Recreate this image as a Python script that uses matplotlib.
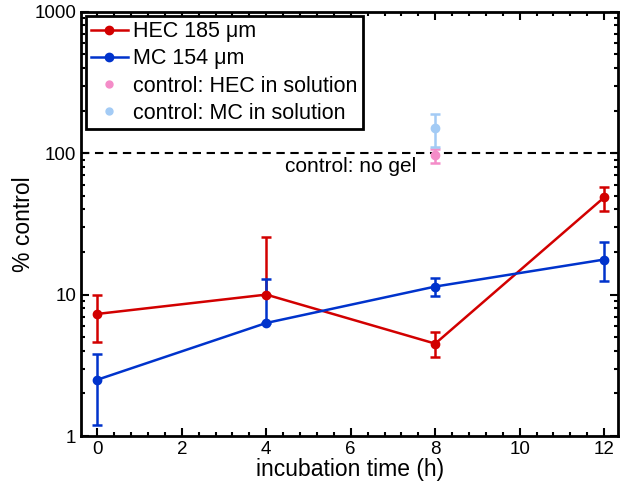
import numpy as np
import matplotlib
matplotlib.use('Agg')
import matplotlib.pyplot as plt
from matplotlib.lines import Line2D
from matplotlib.ticker import LogLocator, NullFormatter, FixedLocator

plt.rcParams['font.family'] = ['Liberation Sans', 'DejaVu Sans']

# data
time_h = [0, 4, 8, 12]
hec = [7.3, 10.0, 4.5, 48.7]
hec_lo = [2.7, 0.0, 0.9, 9.9]
hec_hi = [2.7, 15.4, 0.9, 9.3]
mc = [2.5, 6.3, 11.4, 17.7]
mc_lo = [1.3, 0.0, 1.7, 5.3]
mc_hi = [1.3, 6.5, 1.8, 5.7]

ctrl_t = [8]
ctrl_hec = [97]
ctrl_hec_err = [[12], [10]]
ctrl_mc = [150]
ctrl_mc_err = [[40], [40]]

red = '#d20000'
blue = '#0033cc'
pink = '#f48cc8'
lblue = '#a3cbf5'

fig, ax = plt.subplots(figsize=(6.25, 4.91), dpi=100)
fig.subplots_adjust(left=0.13, right=0.989, top=0.976, bottom=0.112)

ax.axhline(100, color='black', linestyle=(0, (4, 2.7)), linewidth=1.5, zorder=1)
ax.text(6.0, 80, 'control: no gel', ha='center', va='center', fontsize=15)

ebk = dict(marker='o', markersize=6, capsize=3.6, elinewidth=1.8, capthick=1.8)
ax.errorbar(ctrl_t, ctrl_hec, yerr=ctrl_hec_err, color=pink, linestyle='none', **ebk)
ax.errorbar(ctrl_t, ctrl_mc, yerr=ctrl_mc_err, color=lblue, linestyle='none', **ebk)
ax.errorbar(time_h, hec, yerr=[hec_lo, hec_hi], color=red, linewidth=1.8, **ebk)
ax.errorbar(time_h, mc, yerr=[mc_lo, mc_hi], color=blue, linewidth=1.8, **ebk)

ax.set_yscale('log')
ax.set_ylim(1, 1000)
ax.set_xlim(-0.38, 12.33)
ax.set_xticks([0, 2, 4, 6, 8, 10, 12])
ax.xaxis.set_minor_locator(FixedLocator(np.arange(-0.4, 12.4, 0.4)))
ax.set_yticks([1, 10, 100, 1000])
ax.set_yticklabels(['1', '10', '100', '1000'])
ax.yaxis.set_minor_locator(LogLocator(base=10, subs=np.arange(2, 10)))
ax.yaxis.set_minor_formatter(NullFormatter())

ax.tick_params(which='both', direction='in', top=True, right=True, labelsize=13.5, width=1.5)
ax.tick_params(which='major', length=6)
ax.tick_params(which='minor', length=3)
for s in ax.spines.values():
    s.set_linewidth(2)

ax.set_xlabel('incubation time (h)', fontsize=16.5, labelpad=0)
ax.set_ylabel('% control', fontsize=16.5, labelpad=0)

handles = [
    Line2D([], [], color=red, marker='o', markersize=6, linewidth=1.8),
    Line2D([], [], color=blue, marker='o', markersize=6, linewidth=1.8),
    Line2D([], [], color=pink, marker='o', markersize=5, linestyle='none'),
    Line2D([], [], color=lblue, marker='o', markersize=5, linestyle='none'),
]
labels = ['HEC 185 μm', 'MC 154 μm', 'control: HEC in solution', 'control: MC in solution']
leg = ax.legend(handles, labels, loc='upper left', fontsize=15.5,
                frameon=True, fancybox=False, edgecolor='black', framealpha=1,
                handlelength=1.7, handletextpad=0.25, borderpad=0.25, labelspacing=0.28,
                borderaxespad=0.2)
leg.get_frame().set_linewidth(2)

fig.savefig('out.png', dpi=100)
